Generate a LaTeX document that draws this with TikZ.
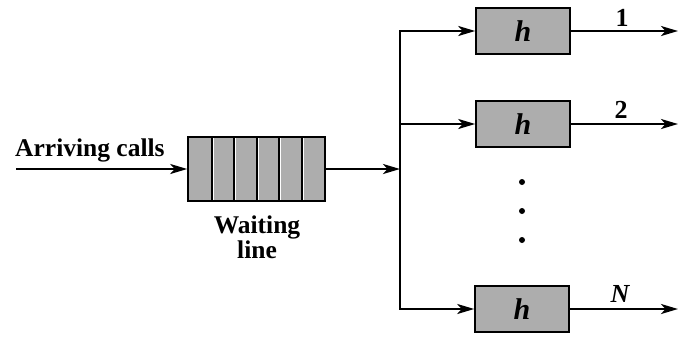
\documentclass[tikz,border=0pt]{standalone}
\usepackage{fontspec}
\setmainfont{Liberation Serif}
\usetikzlibrary{arrows.meta}
\begin{document}
\begin{tikzpicture}[x=1pt,y=-1pt,
  conn/.style={line width=2.4pt,-{Stealth[length=17pt,width=10pt,inset=4.5pt]}},
  shade/.style={fill=black!32},
  hbox/.style={draw,line width=1.6pt,shade,minimum width=94pt,minimum height=46pt,inner sep=0pt,font=\fontsize{30}{30}\selectfont\bfseries\itshape},
  qbox/.style={draw,line width=1.6pt,shade,minimum width=137pt,minimum height=64pt,inner sep=0pt},
  lbl/.style={font=\fontsize{25.5}{25}\selectfont\bfseries,inner sep=0pt},
  olbl/.style={font=\fontsize{26}{26}\selectfont\bfseries,inner sep=0pt,anchor=base},
  vdot/.style={circle,fill,inner sep=0pt,minimum size=6pt}]
\useasboundingbox (0,0) rectangle (682,341);

% waiting line
\node[qbox] (q) at (256.5,169) {};
\foreach \x in {212,234,257,279,302}{
  \fill[white] (\x+1,137.8) rectangle (\x+2.2,200.2);
  \draw[line width=1.5pt] (\x,137) -- (\x,201);
}
\node[lbl,anchor=base west] (arr) at (15,156) {Arriving calls};
\coordinate (a0) at (16,169);
\draw[conn] (a0) -- (q.west);
\node[lbl,align=center,anchor=north] (wl) at (257,216) {Waiting\\line};

% servers
\node[hbox] (h1) at (523,31) {h};
\node[hbox] (h2) at (523,124) {h};
\node[hbox] (h3) at (522,309) {h};

% junction
\coordinate (j) at (400,169);
\draw[conn] (q.east) -- (j);
\draw[conn] (j) |- (h1.west);
\draw[conn] (j) |- (h3.west);
\draw[conn] (j |- h2.west) -- (h2.west);

% outputs
\coordinate (o1) at (678,31);
\coordinate (o2) at (678,124);
\coordinate (o3) at (678,309);
\draw[conn] (h1.east) -- (o1);
\draw[conn] (h2.east) -- (o2);
\draw[conn] (h3.east) -- (o3);
\node[olbl] (l1) at (622,26) {1};
\node[olbl] (l2) at (621,118) {2};
\node[olbl,font=\fontsize{26}{26}\selectfont\bfseries\itshape] (l3) at (620,302) {N};

% dots
\node[vdot] (d1) at (522,182) {};
\node[vdot] (d2) at (522,211) {};
\node[vdot] (d3) at (522,240) {};
\end{tikzpicture}
\end{document}
